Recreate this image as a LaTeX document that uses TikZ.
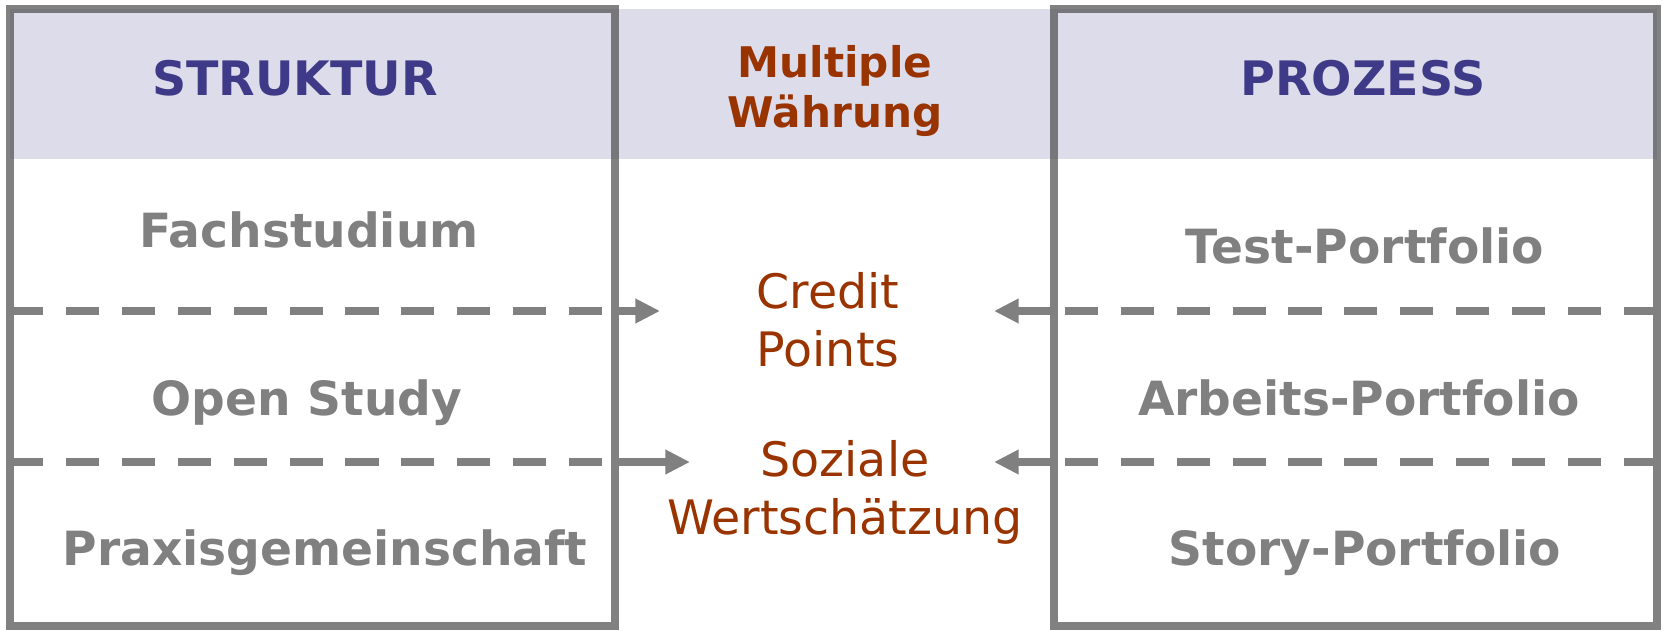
\documentclass[tikz,border=0pt]{standalone}
\usepackage{fontspec}
\setmainfont{DejaVu Sans}
\usetikzlibrary{arrows.meta}
\definecolor{bandlila}{RGB}{220,220,235}
\definecolor{kopfblau}{RGB}{63,58,135}
\definecolor{rostbraun}{RGB}{153,51,0}
\definecolor{grau}{RGB}{128,128,128}
\begin{document}
\begin{tikzpicture}[x=0.01cm,y=-0.01cm,line join=miter,
	rahmen/.style={draw=black!70,draw opacity=0.7,line width=2pt},
	strich/.style={draw=grau,line width=2.2pt,dash pattern=on 9.4pt off 6.5pt},
	pfeil/.style={draw=grau,line width=2.2pt,-{Triangle[length=7pt,width=6.6pt]}},
	feld/.style={text=grau,font=\bfseries\fontsize{13.4}{16}\selectfont,anchor=base},
	kopf/.style={text=kopfblau,font=\bfseries\fontsize{13.5}{16}\selectfont,anchor=base},
	mitte/.style={text=rostbraun,font=\fontsize{13.5}{16.5}\selectfont,align=center}]
	\useasboundingbox (0,0) rectangle (1663,630);
	\path
	(10,9) coordinate (S1)
	(615,626) coordinate (S2)
	(1054,9) coordinate (P1)
	(1657,626) coordinate (P2)
	(660,311) coordinate (T1)
	(690,462) coordinate (T2)
	(994,311) coordinate (T3)
	(994,462) coordinate (T4)
	;
	\fill[bandlila] (S1) rectangle (1657,159);
	\draw[rahmen] (S1) rectangle (S2) (P1) rectangle (P2);
	% Spalten
	\foreach \n/\x/\y/\t in {fach/309/247/Fachstudium,open/307/415/Open Study,praxis/325/565/Praxisgemeinschaft,
		test/1365/263/Test-Portfolio,arbeit/1359/415/Arbeits-Portfolio,story/1365/565/Story-Portfolio}
		\node[feld] (\n) at (\x,\y) {\t};
	\node[kopf] (struktur) at (295,95) {STRUKTUR};
	\node[kopf] (prozess) at (1363,95) {PROZESS};
	\node[mitte,font=\bfseries\fontsize{12}{14}\selectfont] (waehrung) at (835,91) {Multiple\\Währung};
	\node[mitte] (credit) at (828,320) {Credit\\Points};
	\node[mitte] (sozial) at (845,492) {Soziale\\Wertschätzung};
	% Pfeile
	\draw[strich] (S1 |- T1) -- (S2 |- T1) (S1 |- T2) -- (S2 |- T2);
	\draw[strich] (P2 |- T3) -- (P1 |- T3) (P2 |- T4) -- (P1 |- T4);
	\draw[pfeil] (S2 |- T1) -- (T1);
	\draw[pfeil] (S2 |- T2) -- (T2);
	\draw[pfeil] (P1 |- T3) -- (T3);
	\draw[pfeil] (P1 |- T4) -- (T4);
\end{tikzpicture}
\end{document}
